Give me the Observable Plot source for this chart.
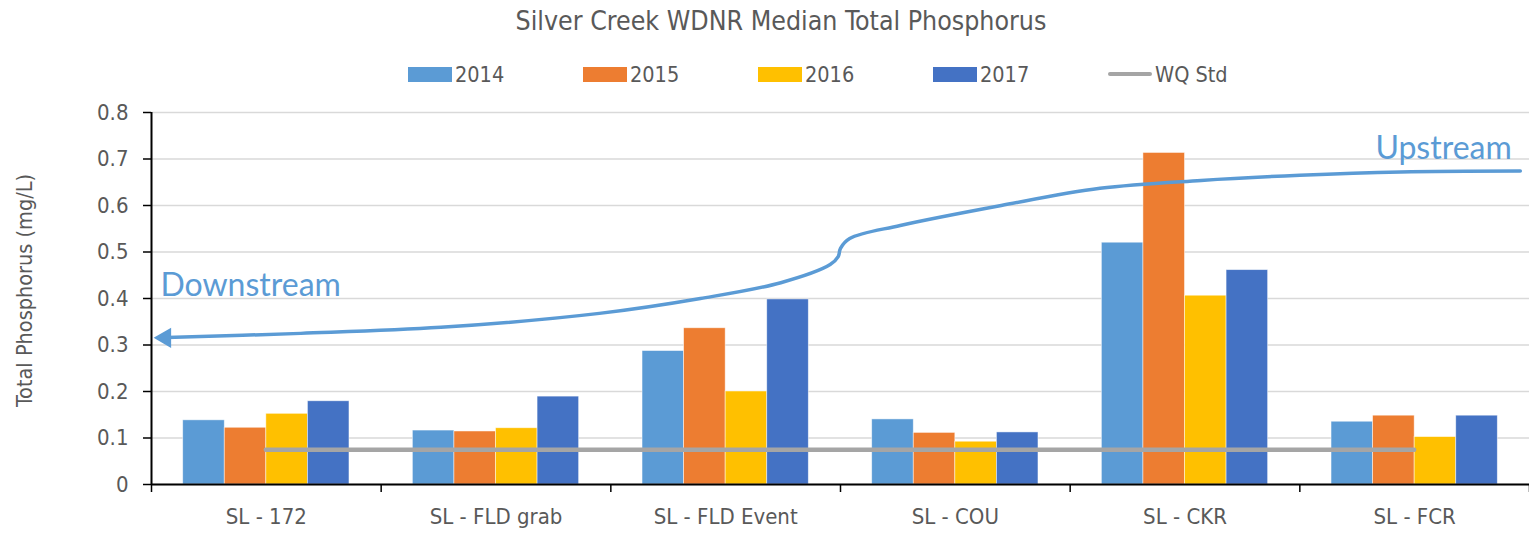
<!DOCTYPE html>
<html>
<head>
<meta charset="utf-8">
<script src="https://cdn.jsdelivr.net/npm/d3@7"></script>
<script src="https://cdn.jsdelivr.net/npm/@observablehq/plot@0.6"></script>
<style>
  body { margin: 0; background: #fff; }
  #wrap { position: relative; width: 1529px; height: 534px; overflow: hidden; font-family: 'Liberation Sans Narrow', 'DejaVu Sans Condensed', sans-serif; color: #595959; }
  #header { position: relative; height: 95px; }
  #title { position: absolute; left: 0; width: 1562px; top: 5px; text-align: center; font-size: 26.5px; }
  .lg { position: absolute; top: 62px; height: 24px; display: flex; align-items: center; font-size: 21.5px; }
  .sw { width: 44px; height: 15px; margin-right: 3px; }
  .ln { width: 44px; height: 4px; border-radius: 2px; margin-right: 3px; }
  svg { display: block; }
</style>
</head>
<body>
<div id="wrap">
  <div id="header">
    <div id="title"></div>
    <div id="legend"></div>
  </div>
  <div id="chart"></div>
</div>
<script>
// ---- data ----
const title = "Silver Creek WDNR Median Total Phosphorus";
const sites = ["SL - 172", "SL - FLD grab", "SL - FLD Event", "SL - COU", "SL - CKR", "SL - FCR"];
const years = ["2014", "2015", "2016", "2017"];
const tp2014 = [0.138, 0.116, 0.287, 0.140, 0.520, 0.135];
const tp2015 = [0.122, 0.114, 0.336, 0.111, 0.713, 0.148];
const tp2016 = [0.152, 0.121, 0.200, 0.092, 0.406, 0.102];
const tp2017 = [0.179, 0.189, 0.398, 0.112, 0.461, 0.148];
const wqStdLabel = "WQ Std";
const wqStd = 0.075;
const yTicks = [0, 0.1, 0.2, 0.3, 0.4, 0.5, 0.6, 0.7, 0.8];
const yLabel = "Total Phosphorus (mg/L)";
// hand-drawn annotation arrow (x in site-slot units, y in mg/L)
const arrowX = [0.03, 0.65, 1.26, 1.95, 2.39, 2.74, 2.955, 2.99, 3.0, 3.04, 3.26, 3.70, 4.13, 4.57, 5.00, 5.44, 5.96];
const arrowY = [0.3155, 0.325, 0.338, 0.368, 0.400, 0.434, 0.473, 0.490, 0.508, 0.529, 0.557, 0.600, 0.637, 0.654, 0.665, 0.672, 0.674];
const upLabel = "Upstream";
const downLabel = "Downstream";

// ---- styling ----
const colors = ["#5B9BD5", "#ED7D31", "#FFC000", "#4472C4"];
const wqColor = "#A5A5A5";
const annColor = "#5B9BD5";
const series = [tp2014, tp2015, tp2016, tp2017];

// ---- header ----
document.getElementById("title").textContent = title;
const legend = document.getElementById("legend");
const legendX = [408, 583, 758, 933];
years.forEach((y, i) => {
  const d = document.createElement("div");
  d.className = "lg"; d.style.left = legendX[i] + "px";
  d.innerHTML = `<span class="sw" style="background:${colors[i]}"></span><span>${y}</span>`;
  legend.appendChild(d);
});
{
  const d = document.createElement("div");
  d.className = "lg"; d.style.left = "1108px";
  d.innerHTML = `<span class="ln" style="background:${wqColor}"></span><span>${wqStdLabel}</span>`;
  legend.appendChild(d);
}

// ---- table ----
const outer = 0.138;
const barW = (1 - 2 * outer) / years.length;
const rows = [];
sites.forEach((s, i) => years.forEach((y, j) => rows.push({site: s, si: i, year: y, yj: j, value: series[j][i]})));
const curve = arrowX.map((x, i) => ({x, y: arrowY[i]}));

const chart = Plot.plot({
  width: 1529,
  height: 439,
  marginLeft: 151,
  marginRight: 0,
  marginTop: 17,
  marginBottom: 50,
  style: {fontFamily: "'Liberation Sans Narrow', 'DejaVu Sans Condensed', sans-serif", fontSize: "22px", color: "#595959", background: "white"},
  x: {domain: [0, sites.length], axis: null},
  y: {domain: [0, 0.8], axis: null},
  color: {domain: years, range: colors},
  marks: [
    Plot.gridY(yTicks, {stroke: "#d9d9d9", strokeOpacity: 1, strokeWidth: 1.5}),
    Plot.rectY(rows, {
      x1: d => d.si + outer + d.yj * barW,
      x2: d => d.si + outer + (d.yj + 1) * barW,
      y: "value",
      fill: "year",
      stroke: "white",
      strokeOpacity: 0.6,
      strokeWidth: 0.8
    }),
    Plot.ruleY([wqStd], {x1: 0.5, x2: sites.length - 0.5, stroke: wqColor, strokeWidth: 4.5, strokeLinecap: "round"}),
    Plot.line(curve, {x: "x", y: "y", curve: "catmull-rom", stroke: annColor, strokeWidth: 3.5}),
    Plot.dot([curve[0]], {x: d => d.x + 0.03, y: "y", symbol: "triangle", rotate: -90, r: 7.5, fill: annColor, stroke: "none"}),
    Plot.text([upLabel], {x: 5.923, y: 0.723, text: d => d, textAnchor: "end", fill: annColor, fontSize: 32, fontFamily: "Lato, 'Open Sans', sans-serif"}),
    Plot.text([downLabel], {x: 0.039, y: 0.428, text: d => d, textAnchor: "start", fill: annColor, fontSize: 32, fontFamily: "Lato, 'Open Sans', sans-serif"}),
    Plot.ruleX([0], {y1: 0, y2: 0.8, stroke: "black", strokeWidth: 2}),
    Plot.ruleY([0], {x1: 0, x2: sites.length, stroke: "black", strokeWidth: 2}),
    Plot.axisY({ticks: yTicks, tickSize: 8, tickPadding: 15, tickFormat: d => String(+d.toFixed(1)), stroke: "black", strokeWidth: 1.5, fill: "#595959", label: null}),
    Plot.axisX({ticks: d3.range(0, sites.length + 1), tickSize: 8, tickFormat: () => "", stroke: "black", strokeWidth: 1.5, label: null}),
    Plot.axisX({ticks: sites.map((s, i) => i + 0.5), tickSize: 0, tickPadding: 24, tickFormat: d => sites[Math.floor(d)], fill: "#595959", label: null}),
    Plot.text([yLabel], {frameAnchor: "left", text: d => d, rotate: -90, textAnchor: "middle", dx: -126, dy: -8, fill: "#595959", fontSize: 21.5})
  ]
});
document.getElementById("chart").appendChild(chart);
</script>
</body>
</html>
